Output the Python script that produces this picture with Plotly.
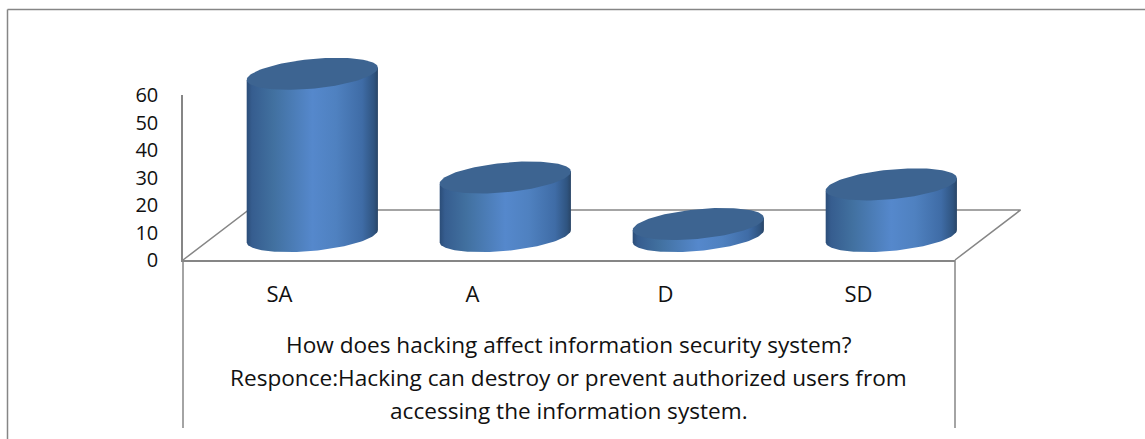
import numpy as np
import plotly.graph_objects as go

categories = ["SA", "A", "D", "SD"]
values = [59, 21.3, 4.4, 18.8]
y_ticks = [0, 10, 20, 30, 40, 50, 60]
title_lines = [
    "How does hacking affect information security system?",
    "Responce:Hacking can destroy or prevent authorized users from",
    "accessing the information system.",
]

W, H = 1145, 439
GREY = "#868686"
INK = "#111111"
FONT = "Open Sans"

# where the real axes sit on the page, in pixels
AX_L, AX_R, AX_T, AX_B = 183, 955, 95, 260
PX_X = (AX_R - AX_L) / 4
PX_Y = (AX_B - AX_T) / 60

# floor depth and cylinder shape, in axis units (1 x = 1 category, y = value)
DEPTH_X = 0.34
DEPTH_Y = 18.2
HALF_W = 0.34
SEMI_Y = 5.4
SHEAR_Y = 2.2
BAR_DX = 0.17
BAR_DY = 8.7

side_colors = [
    [0.0, "#2b4d78"],
    [0.04, "#365d8f"],
    [0.2, "#41709f"],
    [0.5, "#5588cc"],
    [0.68, "#4f81c0"],
    [0.88, "#3f6ca6"],
    [0.97, "#2f5480"],
    [1.0, "#294566"],
]


def ellipse(cx, cy, t):
    return cx + HALF_W * np.cos(t), cy + SEMI_Y * np.sin(t) + SHEAR_Y * np.cos(t)


def px_x(px):
    return px / W


def px_y(py):
    return 1 - py / H


fig = go.Figure()

# keeps the visible axes alive, the 3d look goes on the x2/y2 overlay
fig.add_trace(
    go.Scatter(
        x=[i + 0.5 for i in range(len(categories))],
        y=values,
        mode="markers",
        marker=dict(opacity=0),
        hoverinfo="skip",
        showlegend=False,
    )
)

# floor, drawn behind the bars
fig.add_trace(
    go.Scatter(
        x=[0, DEPTH_X, 4 + DEPTH_X, 4],
        y=[0, DEPTH_Y, DEPTH_Y, 0],
        xaxis="x2",
        yaxis="y2",
        mode="lines",
        line=dict(color=GREY, width=1.5),
        hoverinfo="skip",
        showlegend=False,
    )
)

for i, v in enumerate(values):
    cx = i + 0.5 + BAR_DX
    base = BAR_DY
    top = BAR_DY + v

    t = np.linspace(np.pi, 2 * np.pi, 60)
    bx, by = ellipse(cx, base, t)
    tx, ty = ellipse(cx, top, np.array([0.0, np.pi]))

    fig.add_trace(
        go.Scatter(
            x=list(bx) + list(tx) + [bx[0]],
            y=list(by) + list(ty) + [by[0]],
            xaxis="x2",
            yaxis="y2",
            mode="lines",
            line=dict(width=0),
            fill="toself",
            fillgradient=dict(type="horizontal", colorscale=side_colors),
            hoverinfo="skip",
            showlegend=False,
        )
    )

    t = np.linspace(0, 2 * np.pi, 120)
    ex, ey = ellipse(cx, top, t)
    fig.add_trace(
        go.Scatter(
            x=ex,
            y=ey,
            xaxis="x2",
            yaxis="y2",
            mode="lines",
            line=dict(width=0),
            fill="toself",
            fillcolor="#3d6491",
            hoverinfo="skip",
            showlegend=False,
        )
    )

# outer frame and the separators that hang below the x axis
frame = [
    (7.5, H, 7.5, 9.5),
    (7.5, 9.5, W, 9.5),
    (AX_L, AX_B, AX_L, 428),
    (AX_R, AX_B, AX_R, 428),
]
for x0, y0, x1, y1 in frame:
    fig.add_shape(
        type="line", xref="paper", yref="paper",
        x0=px_x(x0), y0=px_y(y0), x1=px_x(x1), y1=px_y(y1),
        line=dict(color=GREY, width=1.5),
    )

for n, line in enumerate(title_lines):
    fig.add_annotation(
        xref="paper", yref="paper",
        x=px_x((AX_L + AX_R) / 2 - 0.5), y=px_y(344 + 33 * n),
        yanchor="middle",
        text=line,
        showarrow=False,
        font=dict(family=FONT, size=22.6, color=INK),
    )

fig.update_layout(
    width=W,
    height=H,
    margin=dict(l=0, r=0, t=0, b=0, autoexpand=False),
    paper_bgcolor="white",
    plot_bgcolor="rgba(0,0,0,0)",
    showlegend=False,
    xaxis=dict(
        domain=[px_x(AX_L), px_x(AX_R)],
        range=[0, 4],
        tickvals=[0.5, 1.5, 2.5, 3.5],
        ticktext=categories,
        ticks="",
        ticklabelstandoff=14,
        showgrid=False,
        zeroline=False,
        showline=True,
        linecolor=GREY,
        linewidth=1.5,
        tickfont=dict(family=FONT, size=22, color=INK),
    ),
    yaxis=dict(
        domain=[px_y(AX_B), px_y(AX_T)],
        range=[0, 60],
        tickvals=y_ticks,
        ticks="",
        ticklabelstandoff=19,
        showgrid=False,
        zeroline=False,
        showline=True,
        linecolor=GREY,
        linewidth=1.5,
        tickfont=dict(family=FONT, size=20, color=INK),
    ),
    # overlay axes: whole page, same units per pixel as the visible axes
    xaxis2=dict(
        domain=[0, 1],
        range=[-AX_L / PX_X, (W - AX_L) / PX_X],
        visible=False,
        anchor="y2",
    ),
    yaxis2=dict(
        domain=[0, 1],
        range=[-(H - AX_B) / PX_Y, AX_B / PX_Y],
        visible=False,
        anchor="x2",
    ),
)

fig.write_html(
    "out.html",
    config={"displayModeBar": False},
    post_script="document.body.style.margin='0'",
)
